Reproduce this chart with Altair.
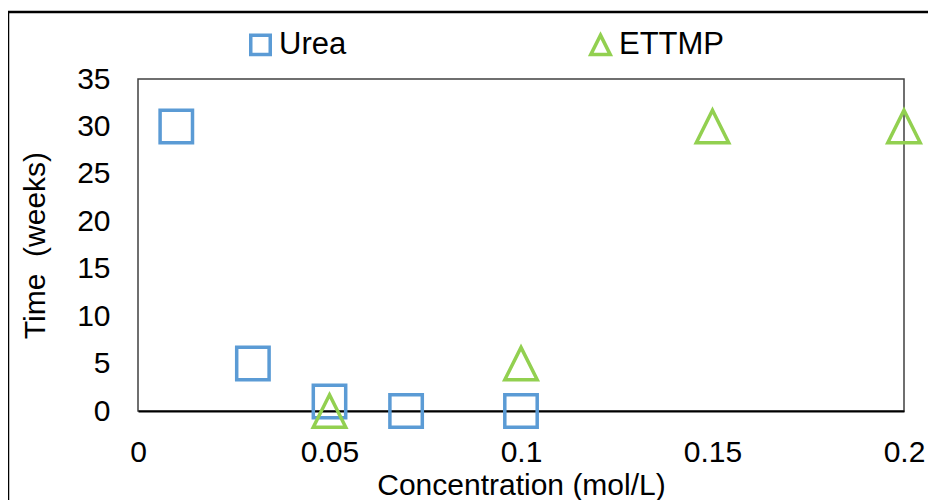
import altair as alt
import pandas as pd

series_names = ["Urea", "ETTMP"]
urea_x = [0.01, 0.03, 0.05, 0.07, 0.1]
urea_y = [30, 5, 1, 0, 0]
ettmp_x = [0.05, 0.1, 0.15, 0.2]
ettmp_y = [0, 5, 30, 30]
x_ticks = [0, 0.05, 0.1, 0.15, 0.2]
y_ticks = [0, 5, 10, 15, 20, 25, 30, 35]

rows = []
for x, y in zip(urea_x, urea_y):
    rows.append({"conc": x, "time": y, "series": "Urea"})
for x, y in zip(ettmp_x, ettmp_y):
    rows.append({"conc": x, "time": y, "series": "ETTMP"})
df = pd.DataFrame(rows)

W, H = 766, 332
FONT = "Liberation Sans"
FS = 30
TRIANGLE = "M0,-1L1,1L-1,1Z"

legend_kw = dict(title=None, orient="none", legendX=107, legendY=-50,
                 direction="horizontal", columnPadding=236,
                 symbolSize=380, symbolStrokeWidth=3.5,
                 labelFontSize=31, labelFont=FONT, labelColor="black",
                 labelOffset=3)

points = alt.Chart(df).mark_point(filled=False, size=1050, strokeWidth=3.5, opacity=1).encode(
    x=alt.X("conc:Q", scale=alt.Scale(domain=[0, 0.2], nice=False),
            axis=alt.Axis(values=x_ticks, format="~g", title="Concentration (mol/L)",
                          grid=False, ticks=False, domain=True, domainColor="black",
                          domainWidth=2, labelPadding=26, titlePadding=3,
                          labelFontSize=FS, titleFontSize=FS, labelFont=FONT, titleFont=FONT,
                          labelColor="black", titleColor="black", titleFontWeight="normal",
                          labelFlush=False)),
    y=alt.Y("time:Q", scale=alt.Scale(domain=[0, 35], nice=False),
            axis=alt.Axis(values=y_ticks, title="Time \u00a0(weeks)", grid=False, ticks=False,
                          domain=False, labelPadding=28, titlePadding=26,
                          labelFontSize=FS, titleFontSize=FS, labelFont=FONT, titleFont=FONT,
                          labelColor="black", titleColor="black", titleFontWeight="normal")),
    color=alt.Color("series:N", scale=alt.Scale(domain=series_names, range=["#5B9BD5", "#92D050"]),
                    legend=alt.Legend(**legend_kw)),
    shape=alt.Shape("series:N", scale=alt.Scale(domain=series_names, range=["square", TRIANGLE]),
                    legend=alt.Legend(**legend_kw)),
    order=alt.Order("series:N", sort="descending"),
)

border = alt.Chart(pd.DataFrame({"a": [0]})).mark_rect(
    fill=None, stroke="black", strokeWidth=2.5
).encode(x=alt.value(-130), x2=alt.value(W + 60), y=alt.value(-67), y2=alt.value(H + 140))

chart = alt.layer(border, points).properties(
    width=W, height=H,
    background="white",
    autosize=alt.AutoSizeParams(type="none"),
    padding={"left": 130, "top": 71, "right": 24, "bottom": 89},
).configure_view(stroke="#404040", strokeWidth=1.5)

chart.save("out.html", embed_options={"renderer": "svg", "actions": False})
